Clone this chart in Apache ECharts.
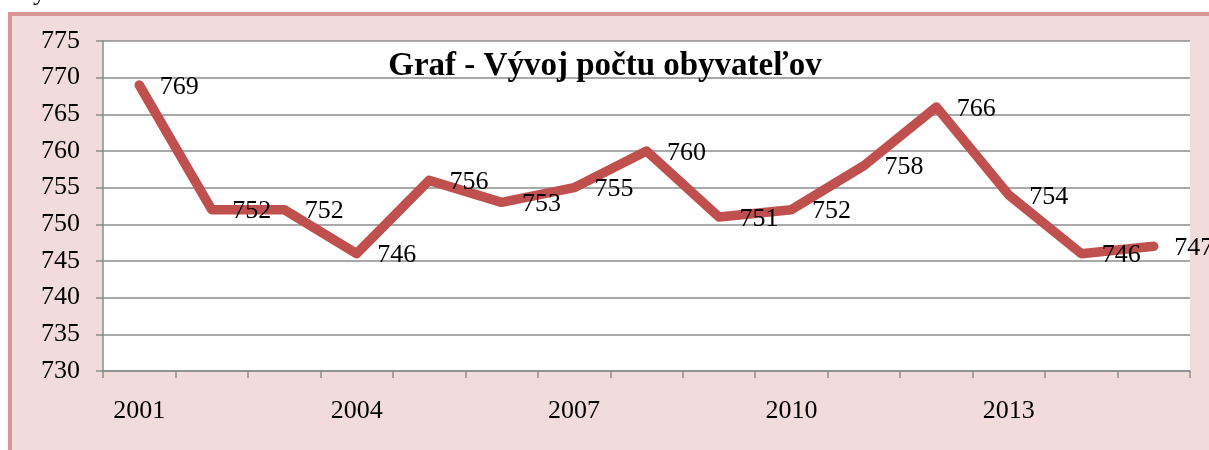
<!DOCTYPE html>
<html>
<head>
<meta charset="utf-8">
<script src="https://cdn.jsdelivr.net/npm/echarts@6/dist/echarts.min.js"></script>
<style>
  html, body { margin: 0; padding: 0; background: #fff; }
  #chart { width: 1209px; height: 450px; }
</style>
</head>
<body>
<div id="chart"></div>
<script>
const years = ["2001", "2002", "2003", "2004", "2005", "2006", "2007", "2008",
  "2009", "2010", "2011", "2012", "2013", "2014", "2015"];
const population = [769, 752, 752, 746, 756, 753, 755, 760, 751, 752, 758, 766, 754, 746, 747];
const chartTitle = "Graf - Vývoj počtu obyvateľov";

const font = "'Liberation Serif', 'DejaVu Serif', serif";
const chart = echarts.init(document.getElementById("chart"));

chart.setOption({
  animation: false,
  backgroundColor: "#ffffff",
  graphic: [
    {
      type: "rect",
      z: -10,
      shape: { x: 10, y: 14, width: 1220, height: 460 },
      style: { fill: "#f2dcdb", stroke: "#d99694", lineWidth: 4 }
    },
    {
      type: "text",
      left: 33,
      top: -20,
      style: { text: "y", font: "26px " + font, fill: "#000" }
    }
  ],
  title: {
    text: chartTitle,
    left: 600,
    textAlign: "center",
    top: 45,
    textStyle: { fontFamily: font, fontWeight: "bold", fontSize: 33, color: "#000" }
  },
  grid: {
    left: 103,
    right: 19,
    top: 41,
    bottom: 79,
    show: true,
    backgroundColor: "#ffffff",
    borderWidth: 0
  },
  xAxis: {
    type: "category",
    data: years,
    boundaryGap: true,
    axisLine: { lineStyle: { color: "#8c8c8c", width: 1.5 } },
    axisTick: { show: true, interval: 0, length: 7, lineStyle: { color: "#8c8c8c", width: 1.5 } },
    axisLabel: {
      interval: 2,
      margin: 27,
      fontFamily: font,
      fontSize: 26,
      color: "#000"
    }
  },
  yAxis: {
    type: "value",
    min: 730,
    max: 775,
    interval: 5,
    axisLine: { show: true, lineStyle: { color: "#8c8c8c", width: 1.5 } },
    axisTick: { show: true, length: 7, lineStyle: { color: "#8c8c8c", width: 1.5 } },
    splitLine: { lineStyle: { color: "#8c8c8c", width: 1.5 } },
    axisLabel: {
      margin: 23,
      fontFamily: font,
      fontSize: 26,
      color: "#000"
    }
  },
  series: [
    {
      type: "line",
      data: population,
      symbol: "circle",
      symbolSize: 1,
      showSymbol: true,
      clip: false,
      lineStyle: { color: "#c0504d", width: 9.5, cap: "round", join: "round" },
      itemStyle: { color: "#c0504d" },
      label: {
        show: true,
        position: "right",
        distance: 20,
        offset: [0, 2],
        fontFamily: font,
        fontSize: 26,
        color: "#000"
      }
    }
  ]
});
</script>
</body>
</html>
